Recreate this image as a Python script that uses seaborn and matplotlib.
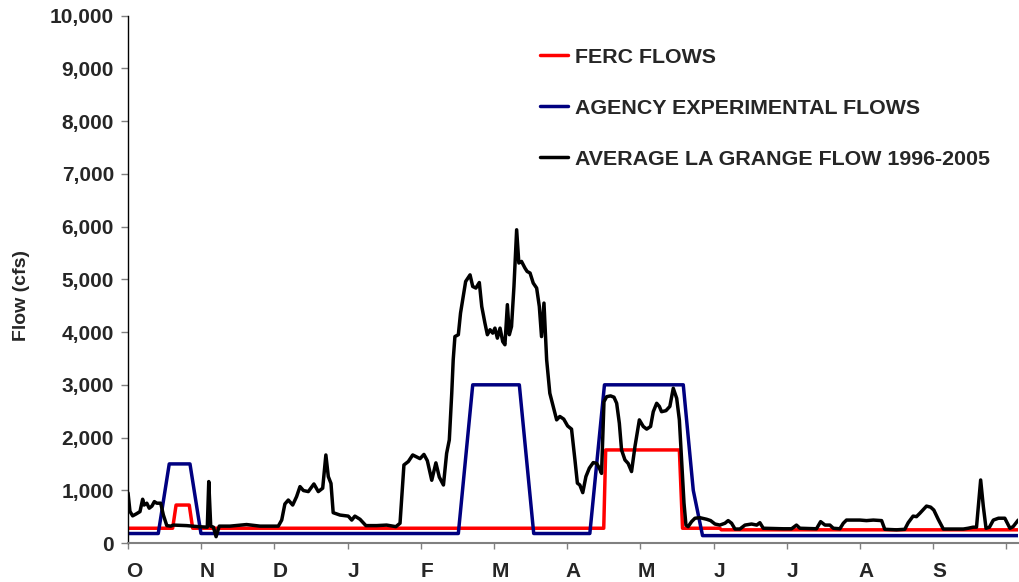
import numpy as np
import pandas as pd
import matplotlib
matplotlib.use("Agg")
import matplotlib.pyplot as plt
import matplotlib.ticker as mticker
import seaborn as sns

# water year day index (0 = Oct 1), values in cfs
months = ["O", "N", "D", "J", "F", "M", "A", "M", "J", "J", "A", "S"]

ferc_days = [0, 18.3, 19.7, 25.1, 26.5, 195.0, 195.8, 226.0, 227.3, 242.6, 243.2, 365]
ferc_cfs = [280, 280, 720, 720, 280, 280, 1765, 1765, 280, 280, 250, 250]

agency_days = [0, 12.4, 16.9, 25.4, 29.9, 135.4, 141.3, 160.4, 166.3, 189.3, 195.3,
               227.6, 231.7, 235.5, 365]
agency_cfs = [180, 180, 1500, 1500, 180, 180, 3000, 3000, 180, 180, 3000,
              3000, 1000, 140, 140]

lagrange_days = [
    0, 0.8, 1.9, 3.3, 4.9, 6.0, 6.6, 7.7, 8.7, 9.8, 10.8, 11.8, 13.4, 14.5, 15.9,
    17.5, 18.6, 24.0, 28.8, 32.5, 33.1, 33.9, 35.0, 36.1, 37.4, 41.8, 48.6, 54.1,
    61.6, 63.0, 64.3, 65.7, 67.5, 69.1, 70.5, 71.9, 73.9, 76.2, 78.0, 79.8, 81.1,
    82.1, 83.2, 84.1, 86.9, 90.3, 91.7, 93.0, 95.1, 97.5, 101.9, 106.0, 109.8,
    111.5, 113.1, 114.9, 116.7, 119.7, 121.3, 122.7, 124.5, 126.2, 127.6, 129.3,
    130.6, 131.7, 132.7, 133.3, 134.0, 135.4, 136.3, 137.4, 138.4, 140.2, 141.3,
    142.6, 144.0, 145.0, 146.3, 147.3, 148.4, 149.5, 150.4, 151.4, 152.5, 153.6,
    154.5, 155.5, 156.3, 157.2, 158.2, 159.3, 160.2, 161.3, 162.7, 163.6, 164.8,
    166.1, 167.5, 168.6, 169.5, 170.5, 171.6, 172.9, 174.3, 175.7, 177.0, 178.6,
    180.2, 181.8, 183.2, 184.2, 185.2, 186.4, 187.7, 189.1, 190.7, 192.1, 193.2,
    194.1, 195.1, 196.2, 197.8, 199.2, 200.3, 201.4, 202.3, 203.7, 205.0, 206.4,
    207.8, 209.6, 211.2, 212.6, 214.2, 215.3, 216.7, 217.8, 218.7, 220.5, 222.1,
    223.5, 224.9, 226.0, 227.0, 227.9, 228.7, 229.6, 231.0, 232.4, 234.4, 237.2,
    238.8, 240.6, 242.6, 244.7, 246.0, 247.4, 248.8, 250.8, 252.9, 255.6, 257.7,
    259.0, 260.4, 268.6, 272.0, 274.0, 275.4, 282.2, 283.9, 285.7, 287.7, 289.1,
    291.8, 293.2, 294.5, 300.0, 302.7, 305.5, 308.9, 310.2, 315.0, 318.4, 319.8,
    321.8, 323.2, 324.6, 327.3, 329.0, 330.3, 332.1, 334.2, 342.4, 344.4, 346.4,
    347.8, 349.5, 350.6, 351.7, 353.1, 354.7, 356.8, 359.4, 361.5, 362.8, 364.9,
]
lagrange_cfs = [
    950, 600, 515, 550, 595, 830, 720, 755, 660, 700, 785, 755, 755, 530, 330,
    320, 340, 330, 310, 300, 1165, 320, 300, 120, 320, 320, 350, 320,
    320, 435, 740, 815, 720, 880, 1070, 995, 975, 1120, 975, 1040, 1670,
    1260, 1130, 575, 530, 510, 435, 510, 450, 330, 330, 340, 310,
    375, 1480, 1545, 1670, 1600, 1680, 1560, 1190, 1520, 1250, 1100,
    1700, 1955, 2840, 3475, 3915, 3950, 4360, 4675, 4960, 5085, 4865,
    4835, 4940, 4485, 4170, 3950, 4045, 3980, 4075, 3885, 4075, 3820,
    3760, 4520, 3950, 4105, 4865, 5940, 5310, 5340, 5215, 5150, 5120,
    4930, 4835, 4485, 3915, 4550, 3475, 2840, 2590, 2335, 2400, 2350,
    2220, 2160, 1575, 1135, 1100, 955, 1260, 1420, 1525, 1510, 1420,
    1320, 2680, 2775, 2790, 2765, 2650, 2270, 1765, 1575, 1510, 1355,
    1830, 2335, 2210, 2160, 2210, 2490, 2650, 2590, 2490, 2510, 2590,
    2935, 2745, 2335, 1510, 755, 340, 310, 405, 470, 480, 450,
    425, 360, 340, 375, 425, 375, 265, 265, 340, 360, 340,
    385, 280, 270, 270, 340, 280, 270, 405, 340, 340, 280,
    270, 375, 435, 435, 425, 435, 425, 260, 250, 260, 385,
    510, 500, 565, 700, 680, 625, 450, 265, 265, 280, 300,
    300, 1195, 690, 280, 300, 435, 470, 470, 280, 310, 435,
]

sns.set_style("white")
plt.rcParams["font.family"] = ["Liberation Sans", "DejaVu Sans"]
plt.rcParams["font.weight"] = "bold"

fig = plt.figure(figsize=(10.2, 5.82), dpi=100)
ax = fig.add_axes([0.1255, 0.067, 0.873, 0.906])

sns.lineplot(x=ferc_days, y=ferc_cfs, color="#FF0000", lw=2.5, sort=False,
             estimator=None, label="FERC FLOWS", ax=ax)
sns.lineplot(x=agency_days, y=agency_cfs, color="#000080", lw=2.5, sort=False,
             estimator=None, label="AGENCY EXPERIMENTAL FLOWS", ax=ax)
sns.lineplot(x=lagrange_days, y=lagrange_cfs, color="black", lw=2.5, sort=False,
             estimator=None, label="AVERAGE LA GRANGE FLOW 1996-2005", ax=ax)

ax.set_xlim(0, 365)
ax.set_ylim(0, 10000)
ax.yaxis.set_major_locator(mticker.MultipleLocator(1000))
ax.yaxis.set_major_formatter(mticker.FuncFormatter(lambda v, p: f"{int(v):,}"))
ax.tick_params(axis="y", labelsize=15, length=5, width=1, color="#808080",
               direction="out", pad=5, left=True)

# month ticks every 30 days, labels sit just to the right of each tick
ax.set_xticks(np.arange(0, 361, 30))
ax.set_xticklabels([])
ax.set_xticks(np.arange(0, 331, 30) + 2.5, minor=True)
ax.set_xticklabels(months, minor=True)
ax.tick_params(axis="x", which="major", length=4, width=1, color="#808080",
               direction="out", bottom=True)
ax.tick_params(axis="x", which="minor", length=0, labelsize=15, pad=14)

for lbl in ax.get_xticklabels(minor=True) + ax.get_yticklabels():
    lbl.set_fontweight("bold")

ax.set_xlabel("")
ax.set_ylabel("Flow (cfs)", fontsize=14, fontweight="bold")
ax.yaxis.set_label_coords(-0.110, 0.47)

for side in ["top", "right"]:
    ax.spines[side].set_visible(False)
ax.spines["left"].set_color("black")
ax.spines["left"].set_linewidth(1)
ax.spines["bottom"].set_color("#808080")
ax.spines["bottom"].set_linewidth(1.5)

leg = ax.legend(loc="upper left", bbox_to_anchor=(0.529, 0.918),
                bbox_transform=fig.transFigure, frameon=False,
                prop={"size": 15.4, "weight": "bold"},
                handlelength=1.35, handletextpad=0.3, labelspacing=1.5,
                borderpad=0, borderaxespad=0)

fig.savefig("out.png", dpi=100)
